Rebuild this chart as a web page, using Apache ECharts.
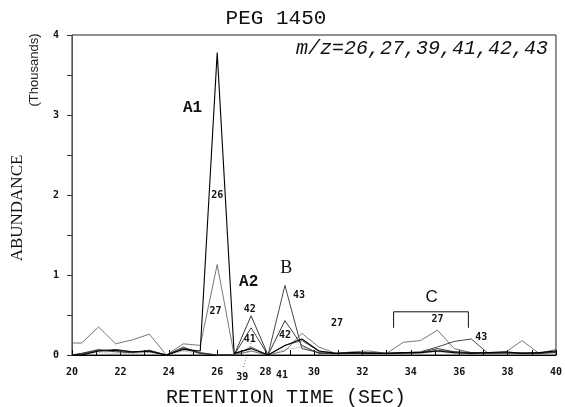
<!DOCTYPE html>
<html>
<head>
<meta charset="utf-8">
<script src="https://cdn.jsdelivr.net/npm/echarts@6/dist/echarts.min.js"></script>
<style>
  html, body { margin: 0; padding: 0; background: #fff; }
  #chart { width: 565px; height: 407px; }
</style>
</head>
<body>
<div id="chart"></div>
<script>
// retention times (sec) of the scans
var times = [20.0, 20.4, 21.1, 21.8, 22.5, 23.2, 23.9, 24.6, 25.3, 26.0,
  26.7, 27.4, 28.1, 28.8, 29.5, 30.2, 30.9, 31.6, 32.3, 33.0,
  33.7, 34.4, 35.1, 35.8, 36.5, 37.2, 37.9, 38.6, 39.3, 40.0]

// abundance (thousands) per ion
var mz26 = [0.0, 0.0, 0.05, 0.06, 0.04, 0.05, 0.0, 0.07, 0.05, 3.78,
  0.02, 0.08, 0.0, 0.12, 0.2, 0.05, 0.02, 0.03, 0.02, 0.02,
  0.03, 0.03, 0.05, 0.03, 0.02, 0.03, 0.04, 0.02, 0.03, 0.05]
var mz27 = [0.15, 0.15, 0.35, 0.14, 0.19, 0.26, 0.0, 0.14, 0.12, 1.13,
  0.0, 0.05, 0.0, 0.05, 0.27, 0.1, 0.02, 0.04, 0.05, 0.02,
  0.16, 0.18, 0.31, 0.08, 0.03, 0.03, 0.03, 0.18, 0.02, 0.07]
var mz39 = [0.0, 0.01, 0.03, 0.02, 0.02, 0.03, 0.0, 0.05, 0.02, 0.0,
  0.0, 0.05, 0.0, 0.07, 0.1, 0.03, 0.01, 0.02, 0.01, 0.01,
  0.02, 0.02, 0.04, 0.02, 0.01, 0.02, 0.02, 0.01, 0.02, 0.03]
var mz41 = [0.0, 0.02, 0.07, 0.05, 0.03, 0.05, 0.0, 0.1, 0.02, 0.0,
  0.0, 0.1, 0.0, 0.12, 0.18, 0.05, 0.02, 0.02, 0.03, 0.02,
  0.03, 0.03, 0.06, 0.04, 0.03, 0.03, 0.02, 0.03, 0.02, 0.04]
var mz42 = [0.0, 0.01, 0.05, 0.07, 0.04, 0.04, 0.0, 0.08, 0.02, 0.0,
  0.0, 0.49, 0.0, 0.43, 0.12, 0.02, 0.02, 0.03, 0.02, 0.02,
  0.02, 0.03, 0.08, 0.04, 0.03, 0.02, 0.03, 0.02, 0.02, 0.03]
var mz43 = [0.0, 0.02, 0.06, 0.04, 0.03, 0.06, 0.0, 0.09, 0.03, 0.0,
  0.0, 0.34, 0.0, 0.87, 0.08, 0.03, 0.02, 0.02, 0.03, 0.02,
  0.03, 0.04, 0.1, 0.17, 0.2, 0.02, 0.03, 0.02, 0.03, 0.04]

var xTicks = [20, 22, 24, 26, 28, 30, 32, 34, 36, 38, 40]
var yTicks = [0, 1, 2, 3, 4]

function pairs (vals) {
  return times.map(function (t, i) { return [t, vals[i]] })
}

function line (name, vals, color, width, type) {
  return {
    name: name,
    type: 'line',
    data: pairs(vals),
    symbol: 'none',
    silent: true,
    lineStyle: { color: color, width: width, type: type || 'solid' }
  }
}

var myChart = echarts.init(document.getElementById('chart'))

var option = {
  backgroundColor: '#fff',
  animation: false,
  grid: {
    left: 72,
    right: 7,
    top: 35,
    bottom: 52,
    show: true,
    borderColor: '#222',
    borderWidth: 1
  },
  xAxis: {
    type: 'value',
    min: 20,
    max: 40,
    interval: 2,
    axisLine: { lineStyle: { color: '#000', width: 1.2 } },
    axisTick: { inside: true, length: 5, lineStyle: { color: '#000' } },
    minorTick: { show: true, splitNumber: 2, length: 5, lineStyle: { color: '#000' } },
    splitLine: { show: false },
    axisLabel: {
      color: '#111',
      fontFamily: 'DejaVu Sans Mono',
      fontWeight: 'bold',
      fontSize: 10,
      margin: 12,
      formatter: function (v) { return xTicks.indexOf(v) >= 0 ? String(v) : '' }
    }
  },
  yAxis: {
    type: 'value',
    min: 0,
    max: 4,
    interval: 1,
    axisLine: { show: true, lineStyle: { color: '#555', width: 1 } },
    axisTick: { show: true, length: 5, lineStyle: { color: '#333' } },
    minorTick: { show: true, splitNumber: 2, length: 5, lineStyle: { color: '#333' } },
    splitLine: { show: false },
    axisLabel: {
      color: '#111',
      fontFamily: 'DejaVu Sans Mono',
      fontWeight: 'bold',
      fontSize: 10,
      margin: 13,
      formatter: function (v) { return yTicks.indexOf(v) >= 0 ? String(v) : '' }
    }
  },
  series: [
    line('27', mz27, '#555', 0.8),
    line('39', mz39, '#777', 0.8, 'dotted'),
    line('41', mz41, '#444', 0.8),
    line('42', mz42, '#222', 0.9),
    line('43', mz43, '#333', 0.9),
    line('26', mz26, '#000', 1.1)
  ]
}

myChart.setOption(option)

// annotations in data coordinates: [time, abundance, text, style]
var notes = [
  [24.98, 3.09, 'A1', 'big'],
  [26.0, 2.0, '26', 'small'],
  [25.93, 0.54, '27', 'small'],
  [27.3, 0.91, 'A2', 'big'],
  [27.35, 0.57, '42', 'small'],
  [27.35, 0.19, '41', 'small'],
  [28.85, 1.09, 'B', 'serif'],
  [29.38, 0.75, '43', 'small'],
  [28.8, 0.25, '42', 'small'],
  [30.95, 0.4, '27', 'small'],
  [34.86, 0.72, 'C', 'sans'],
  [35.1, 0.44, '27', 'small'],
  [36.91, 0.22, '43', 'small'],
  [27.04, -0.28, '39', 'small'],
  [28.68, -0.26, '41', 'small']
]
var fonts = {
  big: 'bold 16px "Liberation Mono"',
  small: 'bold 10px "DejaVu Sans Mono"',
  serif: '18px "Liberation Serif"',
  sans: '17px "Liberation Sans"'
}

function px (t, v) {
  return myChart.convertToPixel({ gridIndex: 0 }, [t, v])
}

var graphics = [
  {
    type: 'text',
    x: 276,
    y: 18,
    style: {
      text: 'PEG 1450',
      font: '21px "Liberation Mono"',
      fill: '#111',
      align: 'center',
      verticalAlign: 'middle'
    }
  },
  {
    type: 'text',
    x: 548,
    y: 49,
    style: {
      text: 'm/z=26,27,39,41,42,43',
      font: 'italic 20px "Liberation Mono"',
      fill: '#111',
      align: 'right',
      verticalAlign: 'middle'
    }
  },
  {
    type: 'text',
    x: 286,
    y: 398,
    style: {
      text: 'RETENTION TIME (SEC)',
      font: '20px "Liberation Mono"',
      fill: '#111',
      align: 'center',
      verticalAlign: 'middle'
    }
  },
  {
    type: 'text',
    x: 18,
    y: 208,
    rotation: Math.PI / 2,
    style: {
      text: 'ABUNDANCE',
      font: '17px "Liberation Serif"',
      fill: '#111',
      align: 'center',
      verticalAlign: 'middle'
    }
  },
  {
    type: 'text',
    x: 34,
    y: 70,
    rotation: Math.PI / 2,
    style: {
      text: '(Thousands)',
      font: '13px "Liberation Sans"',
      fill: '#222',
      align: 'center',
      verticalAlign: 'middle'
    }
  }
]

notes.forEach(function (n) {
  var p = px(n[0], n[1])
  graphics.push({
    type: 'text',
    x: p[0],
    y: p[1],
    style: { text: n[2], font: fonts[n[3]], fill: '#111', align: 'center', verticalAlign: 'middle' }
  })
})

// bracket over group C
var b1 = px(33.29, 0.34)
var b2 = px(33.29, 0.54)
var b3 = px(36.38, 0.54)
var b4 = px(36.38, 0.34)
graphics.push({
  type: 'polyline',
  shape: { points: [b1, b2, b3, b4] },
  style: { stroke: '#111', lineWidth: 1, fill: null }
})

// dotted leader for the 39 label
var l1 = px(27.08, -0.15)
var l2 = px(27.4, 0.15)
graphics.push({
  type: 'line',
  shape: { x1: l1[0], y1: l1[1], x2: l2[0], y2: l2[1] },
  style: { stroke: '#555', lineWidth: 0.8, lineDash: [1, 2] }
})

myChart.setOption({ graphic: graphics })
</script>
</body>
</html>
